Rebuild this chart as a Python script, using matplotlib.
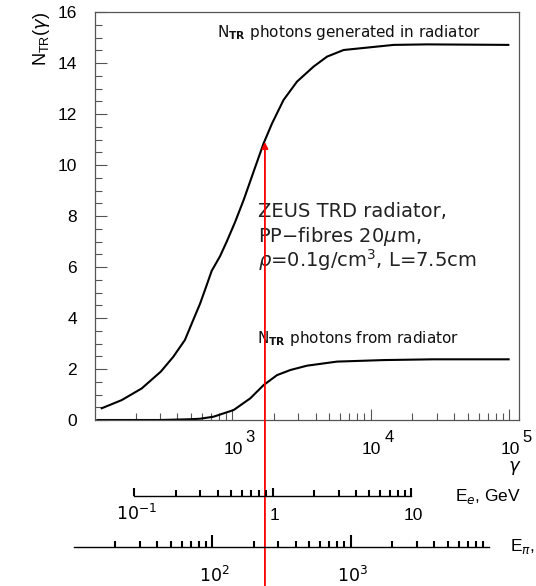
import numpy as np
import matplotlib.pyplot as plt
from matplotlib.ticker import FixedLocator, NullFormatter, MultipleLocator
from matplotlib.transforms import blended_transform_factory, offset_copy

# number of TR photons vs Lorentz factor
gamma_gen = [114, 159, 222, 305, 375, 455, 522, 584, 635, 710, 815, 912, 1045, 1208,
             1466, 1683, 1936, 2344, 2931, 3864, 4831, 6368, 14620, 25470, 98400]
ntr_gen = [0.46, 0.78, 1.24, 1.9, 2.48, 3.14, 3.92, 4.55, 5.1, 5.85, 6.42, 7.0, 7.75, 8.63,
           9.93, 10.85, 11.63, 12.55, 13.27, 13.86, 14.25, 14.51, 14.71, 14.73, 14.71]

gamma_rad = [106, 300, 498, 587, 733, 1022, 1349, 1683, 2103, 2625, 3460, 5700, 12360, 28380, 98900]
ntr_rad = [0.0, 0.0, 0.03, 0.05, 0.13, 0.39, 0.85, 1.37, 1.76, 1.96, 2.13, 2.29, 2.35, 2.38, 2.38]

# marker line at ~0.9 GeV electrons
red_gamma = 1720
red_ntr = 10.9

gamma_decades = [1e3, 1e4, 1e5]
gamma_exps = ['3', '4', '5']

m_e = 0.000511   # GeV
m_pi = 0.13957   # GeV
ee_major = [0.1, 1, 10]
ee_labels = ['$10^{-1}$', '1', '10']
ee_minor = [0.2, 0.3, 0.4, 0.5, 0.6, 0.7, 0.8, 0.9, 2, 3, 4, 5, 6, 7, 8, 9]
epi_major = [100, 1000]
epi_labels = ['$10^{2}$', '$10^{3}$']
epi_minor = [20, 30, 40, 50, 60, 70, 80, 90, 200, 300, 400, 500, 600, 700, 800, 900,
             2000, 3000, 4000, 5000, 6000, 7000, 8000, 9000]

plt.rcParams['font.family'] = ['Liberation Sans', 'DejaVu Sans']
plt.rcParams['mathtext.fontset'] = 'dejavusans'

W, H = 536, 586
fig = plt.figure(figsize=(W / 100, H / 100), dpi=100)
l, r, t, b = 95, 519, 12, 420
ax = fig.add_axes([l / W, 1 - b / H, (r - l) / W, (b - t) / H])

frame = '#555555'
ax.set_xscale('log')
ax.set_xlim(102, 117500)
ax.set_ylim(0, 16)
for side in ['top', 'right', 'left', 'bottom']:
    ax.spines[side].set_color(frame)
    ax.spines[side].set_linewidth(0.9)

ax.plot(gamma_gen, ntr_gen, color='black', lw=1.5)
ax.plot(gamma_rad, ntr_rad, color='black', lw=1.5)

ax.yaxis.set_major_locator(MultipleLocator(2))
ax.yaxis.set_minor_locator(MultipleLocator(0.5))
ax.tick_params(axis='both', which='both', direction='in', color=frame, width=0.8,
               top=False, right=False)
ax.tick_params(axis='y', which='major', length=8.5, pad=13, labelsize=12.5)
ax.tick_params(axis='y', which='minor', length=5)
ax.tick_params(axis='x', which='major', length=7.7)
ax.tick_params(axis='x', which='minor', length=5)
ax.xaxis.set_major_formatter(NullFormatter())
ax.xaxis.set_minor_formatter(NullFormatter())

ax.set_ylabel(r'N$_{\mathregular{TR}}$($\gamma$)', fontsize=13, va='center')
ax.yaxis.set_label_coords(-0.127, 0.934)

# decade labels drawn as "10" plus a raised exponent
xtrans = blended_transform_factory(ax.transData, ax.transAxes)
for g, e in zip(gamma_decades, gamma_exps):
    ax.text(g, 0, '10', transform=offset_copy(xtrans, fig, x=1, y=-29, units='dots'),
            ha='center', va='center', fontsize=12.5)
    ax.text(g, 0, e, transform=offset_copy(xtrans, fig, x=18, y=-17, units='dots'),
            ha='center', va='center', fontsize=12)
ax.text(1, 0, r'$\gamma$', transform=offset_copy(ax.transAxes, fig, x=-4, y=-48, units='dots'),
        ha='center', va='center', fontsize=13)

# annotations
ann = ['DejaVu Sans']
ax.text(774, 15.02, r'N$_{\mathbf{TR}}$ photons generated in radiator', family=ann,
        fontsize=11, va='baseline', color='#111111')
ax.text(1510, 3.02, r'N$_{\mathbf{TR}}$ photons from radiator', family=ann,
        fontsize=11, va='baseline', color='#111111')
ax.text(1535, 7.97, 'ZEUS TRD radiator,', family=ann, fontsize=14, va='baseline', color='#222222')
ax.text(1535, 6.99, r'PP$-$fibres 20$\mu$m,', family=ann, fontsize=14, va='baseline', color='#222222')
ax.text(1535, 6.0, r'$\rho$=0.1g/cm$^3$, L=7.5cm', family=ann, fontsize=14, va='baseline', color='#222222')

ax.annotate('', xy=(red_gamma, red_ntr), xycoords='data',
            xytext=(red_gamma, 0), textcoords=('data', 'figure fraction'),
            arrowprops=dict(arrowstyle='-|>', color='red', lw=1.3, mutation_scale=9,
                            shrinkA=0, shrinkB=0),
            annotation_clip=False, zorder=5)

# energy scales for electrons and pions, sharing the gamma mapping
lg0, lg1 = np.log10(ax.get_xlim())
f0, f1 = l / W, r / W
g_left = 10 ** (lg0 - f0 / (f1 - f0) * (lg1 - lg0))
g_right = 10 ** (lg0 + (1 - f0) / (f1 - f0) * (lg1 - lg0))


def energy_axis(y_px, mass, major, minor, labels, bounds, maj_len, lab_dy, name, name_x):
    sub = fig.add_axes([0, 1 - y_px / H, 1, 0.02])
    sub.set_xscale('log')
    sub.set_xlim(g_left * mass, g_right * mass)
    sub.patch.set_visible(False)
    for side in ['top', 'right', 'left']:
        sub.spines[side].set_visible(False)
    sub.spines['bottom'].set_bounds(*bounds)
    sub.spines['bottom'].set_linewidth(1.0)
    sub.set_yticks([])
    sub.xaxis.set_major_locator(FixedLocator(major))
    sub.xaxis.set_minor_locator(FixedLocator(minor))
    sub.xaxis.set_major_formatter(NullFormatter())
    sub.xaxis.set_minor_formatter(NullFormatter())
    sub.tick_params(axis='x', which='major', direction='in', length=maj_len, width=1.5)
    sub.tick_params(axis='x', which='minor', direction='in', length=4, width=1.5)
    tr = blended_transform_factory(sub.transData, sub.transAxes)
    for v, s in zip(major, labels):
        sub.text(v, 0, s, transform=offset_copy(tr, fig, x=2, y=-lab_dy, units='dots'),
                 ha='center', va='baseline', fontsize=12.5)
    fig.text(name_x / W, 1 - y_px / H, name, ha='left', va='center', fontsize=12.5)
    return sub


energy_axis(496, m_e, ee_major, ee_minor, ee_labels, (0.1, 10), 6, 24,
            r'E$_e$, GeV', 455)
energy_axis(547, m_pi, epi_major, epi_minor, epi_labels, (10, 1e4), 9, 35,
            r'E$_{\pi}$,', 510)

fig.savefig('out.png', dpi=100)
